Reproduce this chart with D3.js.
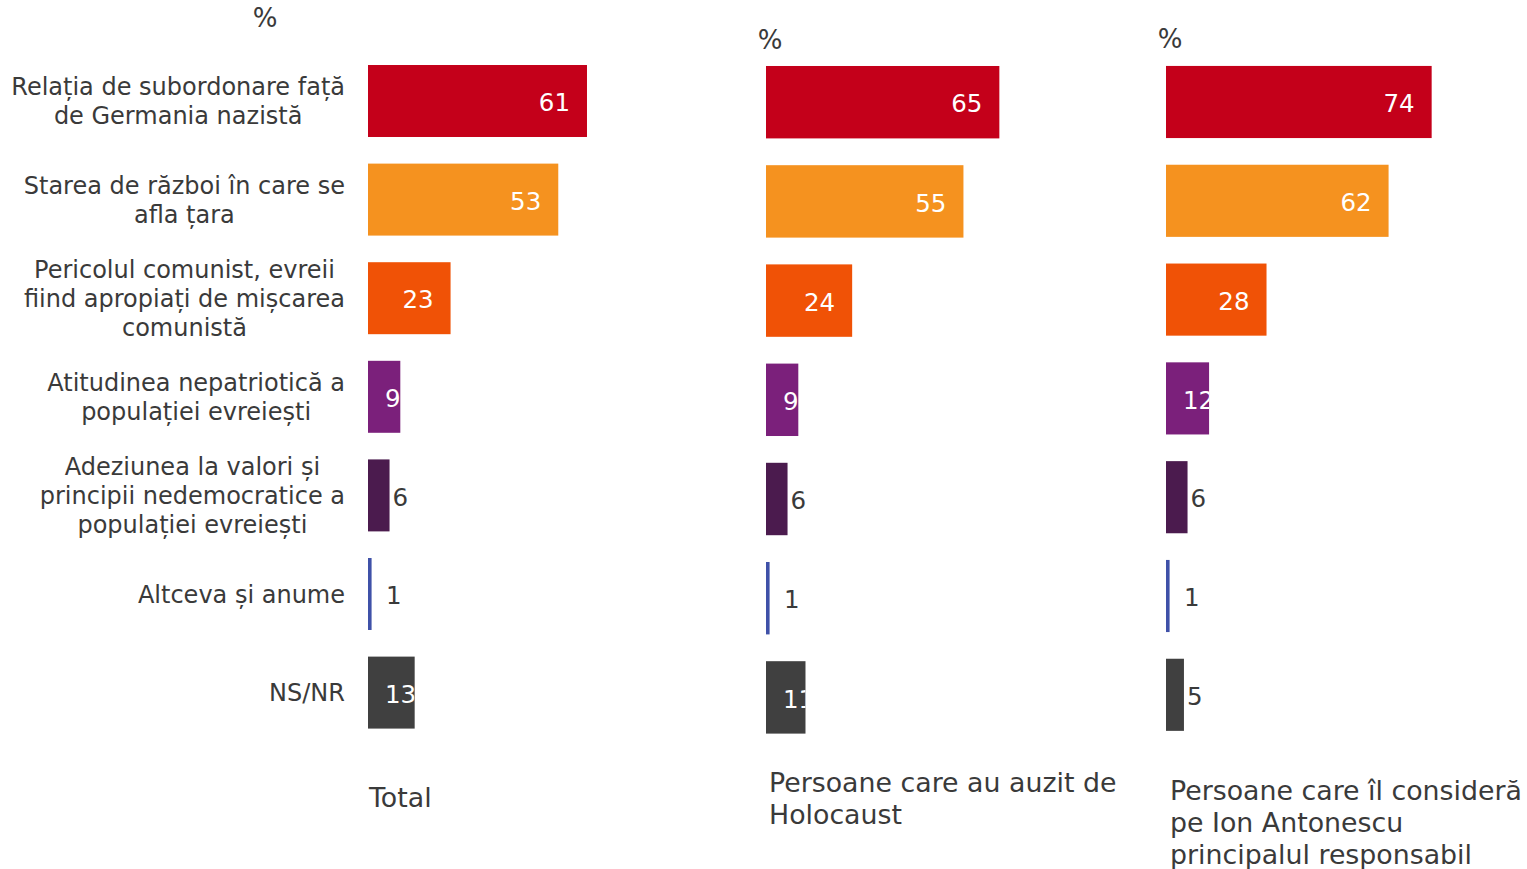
<!DOCTYPE html>
<html>
<head>
<meta charset="utf-8">
<script src="https://cdn.jsdelivr.net/npm/d3@7"></script>
<style>
  body { margin: 0; background: #fff; }
  svg text { font-family: "DejaVu Sans", Verdana, sans-serif; }
</style>
</head>
<body>
<div class="chart"></div>
<script>
// Data.
const categories = [
  ["Relația de subordonare față", "de Germania nazistă"],
  ["Starea de război în care se", "afla țara"],
  ["Pericolul comunist, evreii", "fiind apropiați de mișcarea", "comunistă"],
  ["Atitudinea nepatriotică a", "populației evreiești"],
  ["Adeziunea la valori și", "principii nedemocratice a", "populației evreiești"],
  ["Altceva și anume"],
  ["NS/NR"],
];
const panelTitles = [
  ["Total"],
  ["Persoane care au auzit de", "Holocaust"],
  ["Persoane care îl consideră", "pe Ion Antonescu", "principalul responsabil"],
];
const totalValues = [61, 53, 23, 9, 6, 1, 13];
const auzitValues = [65, 55, 24, 9, 6, 1, 11];
const antonescuValues = [74, 62, 28, 12, 6, 1, 5];
const barColors = ["#C4001A", "#F5921F", "#F05206", "#7B207B", "#4B1B4E", "#3F51A8", "#404040"];

const textColor = "#3a3a3a";

// Panel layout.
const panels = [
  { values: totalValues, x0: 368, top: 51.7, step: 98.6, pctX: 265, pctY: 27, titleX: 369, titleY: 807 },
  { values: auzitValues, x0: 766, top: 52.6, step: 99.2, pctX: 770, pctY: 49, titleX: 769, titleY: 792 },
  { values: antonescuValues, x0: 1166, top: 52.6, step: 98.8, pctX: 1170, pctY: 48, titleX: 1170, titleY: 800 },
];

const svg = d3.select(".chart")
  .append("svg")
  .attr("width", 1527)
  .attr("height", 869);

const defs = svg.append("defs");

// Shared value scale.
const xScale = d3.scaleLinear().domain([0, 100]).range([0, 359]);
const keys = categories.map((d, i) => i);

panels.forEach((p, pi) => {
  const yScale = d3.scaleBand()
    .domain(keys)
    .range([p.top, p.top + p.step * keys.length])
    .paddingInner(0.27)
    .paddingOuter(0.135);

  const g = svg.append("g").attr("class", "panel").attr("transform", `translate(${p.x0},0)`);

  // Percent sign.
  svg.append("text")
    .attr("x", p.pctX)
    .attr("y", p.pctY)
    .attr("text-anchor", "middle")
    .style("font-size", "26px")
    .style("fill", textColor)
    .text("%");

  // Bars.
  g.selectAll(".bar")
    .data(p.values)
    .enter()
    .append("rect")
    .attr("class", "bar")
    .attr("x", 0)
    .attr("y", (d, i) => yScale(i))
    .attr("width", (d) => xScale(d))
    .attr("height", yScale.bandwidth())
    .style("fill", (d, i) => barColors[i]);

  // Clip paths so labels do not spill out of short bars.
  p.values.forEach((d, i) => {
    defs.append("clipPath")
      .attr("id", `clip-${pi}-${i}`)
      .append("rect")
      .attr("x", p.x0)
      .attr("y", yScale(i))
      .attr("width", xScale(d))
      .attr("height", yScale.bandwidth());
  });

  // Value labels.
  p.values.forEach((d, i) => {
    const w = xScale(d);
    const cy = yScale(i) + yScale.bandwidth() / 2;
    const label = g.append("text")
      .attr("y", cy)
      .attr("dy", "0.42em")
      .style("font-size", "24.5px")
      .text(d);
    const tw = label.node().getComputedTextLength();
    if (w < 25) {
      label.attr("x", Math.max(w + 3, 18)).style("fill", textColor);
    } else if (w >= tw + 34) {
      label.attr("x", w - 17).attr("text-anchor", "end").style("fill", "#fff");
    } else {
      label.style("fill", "#fff")
        .attr("clip-path", `url(#clip-${pi}-${i})`)
        .attr("transform", `translate(${-p.x0},0)`)
        .attr("x", p.x0 + 17);
    }
  });

  // Panel title.
  const title = svg.append("text")
    .attr("x", p.titleX)
    .attr("y", p.titleY)
    .style("font-size", "26.8px")
    .style("fill", textColor);
  title.selectAll("tspan")
    .data(panelTitles[pi])
    .enter()
    .append("tspan")
    .attr("x", p.titleX)
    .attr("dy", (d, i) => (i === 0 ? 0 : 32))
    .text((d) => d);

  // Category labels only once, from the first panel.
  if (pi === 0) {
    categories.forEach((lines, i) => {
      const cy = yScale(i) + yScale.bandwidth() / 2;
      const lh = 29;
      const t = svg.append("text")
        .attr("text-anchor", "middle")
        .style("font-size", "24px")
        .style("fill", textColor);
      const spans = t.selectAll("tspan")
        .data(lines)
        .enter()
        .append("tspan")
        .attr("y", (d, j) => cy + (j - (lines.length - 1) / 2) * lh)
        .attr("dy", "0.36em")
        .text((d) => d);
      const maxW = d3.max(spans.nodes(), (n) => n.getComputedTextLength());
      spans.attr("x", 345 - maxW / 2);
    });
  }
});
</script>
</body>
</html>
